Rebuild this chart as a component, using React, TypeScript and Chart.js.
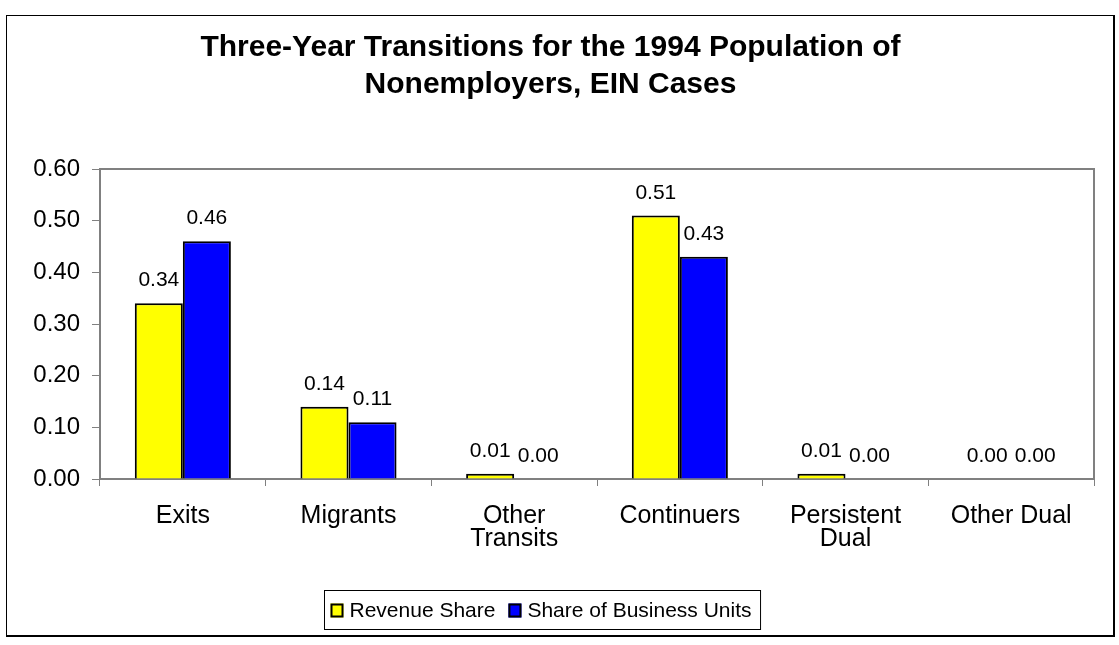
import React, { useEffect, useRef } from 'react';
import { Chart, registerables } from 'chart.js';

Chart.register(...registerables);

const titleLines = ['Three-Year Transitions for the 1994 Population of', 'Nonemployers, EIN Cases'];
const categories: (string | string[])[] = [
  'Exits',
  'Migrants',
  ['Other', 'Transits'],
  'Continuers',
  ['Persistent', 'Dual'],
  'Other Dual',
];
const revenueShare = [0.34, 0.14, 0.01, 0.51, 0.01, 0.0];
const businessUnitsShare = [0.46, 0.11, 0.0, 0.43, 0.0, 0.0];
const seriesNames = ['Revenue Share', 'Share of Business Units'];
const seriesColors = ['#FFFF00', '#0000FF'];
const yMin = 0;
const yMax = 0.6;
const yStep = 0.1;

const FONT = "'Liberation Sans', Arial, Helvetica, sans-serif";

const plotFramePlugin = {
  id: 'plotFrame',
  beforeDatasetsDraw(chart: any) {
    const { ctx, chartArea } = chart;
    ctx.save();
    ctx.strokeStyle = '#808080';
    ctx.lineWidth = 2;
    ctx.beginPath();
    ctx.moveTo(chartArea.left, chartArea.top);
    ctx.lineTo(chartArea.right, chartArea.top);
    ctx.lineTo(chartArea.right, chartArea.bottom);
    ctx.stroke();
    ctx.restore();
  },
};

const valueLabelPlugin = {
  id: 'valueLabels',
  afterDatasetsDraw(chart: any) {
    const { ctx } = chart;
    ctx.save();
    ctx.font = `21px ${FONT}`;
    ctx.fillStyle = '#000';
    ctx.textAlign = 'center';
    ctx.textBaseline = 'alphabetic';
    chart.data.datasets.forEach((ds: any, di: number) => {
      const meta = chart.getDatasetMeta(di);
      meta.data.forEach((bar: any, i: number) => {
        const v = ds.data[i] as number;
        ctx.fillText(v.toFixed(2), bar.x, bar.y - 17);
      });
    });
    ctx.restore();
  },
};

const boxedLegendPlugin = {
  id: 'boxedLegend',
  afterDraw(chart: any) {
    const { ctx } = chart;
    const datasets = chart.data.datasets;
    ctx.save();
    ctx.font = `21px ${FONT}`;
    const boxW = 13;
    const boxH = 14;
    const gap = 6;
    const itemGap = 13;
    const widths = datasets.map((d: any) => ctx.measureText(d.label).width);
    let contentW = 0;
    widths.forEach((w: number, i: number) => {
      contentW += boxW + gap + w + (i < widths.length - 1 ? itemGap : 0);
    });
    const padL = 6;
    const padR = 9;
    const frameW = contentW + padL + padR;
    const frameH = 39;
    const frameX = Math.round(chart.width / 2 - 18 - frameW / 2) + 0.5;
    const frameY = chart.height - 45 + 0.5;
    ctx.fillStyle = '#fff';
    ctx.fillRect(frameX, frameY, frameW, frameH);
    ctx.strokeStyle = '#000';
    ctx.lineWidth = 1;
    ctx.strokeRect(frameX, frameY, frameW, frameH);
    let x = frameX + padL;
    datasets.forEach((d: any, i: number) => {
      const by = frameY + 13;
      ctx.fillStyle = d.backgroundColor;
      ctx.fillRect(x, by, boxW, boxH);
      ctx.strokeStyle = '#000';
      ctx.lineWidth = 2;
      ctx.strokeRect(x + 1, by + 1, boxW - 2, boxH - 2);
      ctx.fillStyle = '#000';
      ctx.textAlign = 'left';
      ctx.textBaseline = 'alphabetic';
      ctx.fillText(d.label, x + boxW + gap, frameY + 26.5);
      x += boxW + gap + widths[i] + itemGap;
    });
    ctx.restore();
  },
};

export default function App() {
  const canvasRef = useRef<HTMLCanvasElement | null>(null);

  useEffect(() => {
    if (!canvasRef.current) return;
    const chart = new Chart(canvasRef.current, {
      type: 'bar',
      data: {
        labels: categories,
        datasets: [
          {
            label: seriesNames[0],
            data: revenueShare,
            backgroundColor: seriesColors[0],
            borderColor: '#000',
            borderWidth: 2,
            categoryPercentage: 0.58,
            barPercentage: 1,
          },
          {
            label: seriesNames[1],
            data: businessUnitsShare,
            backgroundColor: seriesColors[1],
            borderColor: '#000',
            borderWidth: 2,
            categoryPercentage: 0.58,
            barPercentage: 1,
          },
        ],
      },
      options: {
        animation: false,
        responsive: true,
        maintainAspectRatio: false,
        devicePixelRatio: 1,
        layout: { padding: { left: 0, right: 19, top: 0, bottom: 0 } },
        plugins: {
          legend: { display: false },
          tooltip: { enabled: false },
          title: {
            display: true,
            text: titleLines,
            color: '#000',
            font: { family: FONT, size: 30, weight: 'bold', lineHeight: 37 / 30 },
            padding: { top: 13.5, bottom: 65.5 },
          },
        },
        scales: {
          x: {
            offset: true,
            grid: {
              display: true,
              offset: true,
              drawOnChartArea: false,
              drawTicks: true,
              tickLength: 7,
              color: '#808080',
              lineWidth: 1,
            },
            border: { display: true, color: '#808080', width: 2 },
            ticks: {
              color: '#000',
              font: { family: FONT, size: 25, lineHeight: 0.94 },
              padding: 18,
              maxRotation: 0,
              autoSkip: false,
            },
            afterFit(scale: any) {
              scale.height = 156;
            },
          },
          y: {
            min: yMin,
            max: yMax,
            grid: {
              display: true,
              drawOnChartArea: false,
              drawTicks: true,
              tickLength: 8,
              color: '#808080',
              lineWidth: 1,
            },
            border: { display: true, color: '#808080', width: 2 },
            ticks: {
              stepSize: yStep,
              color: '#000',
              font: { family: FONT, size: 24 },
              padding: 12,
              callback: (v: any) => Number(v).toFixed(2),
            },
            afterFit(scale: any) {
              scale.width = 93;
            },
          },
        },
      } as any,
      plugins: [plotFramePlugin, valueLabelPlugin, boxedLegendPlugin],
    });
    return () => chart.destroy();
  }, []);

  return (
    <div
      style={{
        position: 'absolute',
        left: 6,
        top: 15,
        width: 1109,
        height: 622,
        boxSizing: 'border-box',
        borderLeft: '1px solid #000',
        borderTop: '1px solid #000',
        borderRight: '2px solid #000',
        borderBottom: '2px solid #000',
        background: '#fff',
      }}
    >
      <div style={{ position: 'relative', width: '100%', height: '100%' }}>
        <canvas ref={canvasRef} style={{ display: 'block' }} />
      </div>
    </div>
  );
}
